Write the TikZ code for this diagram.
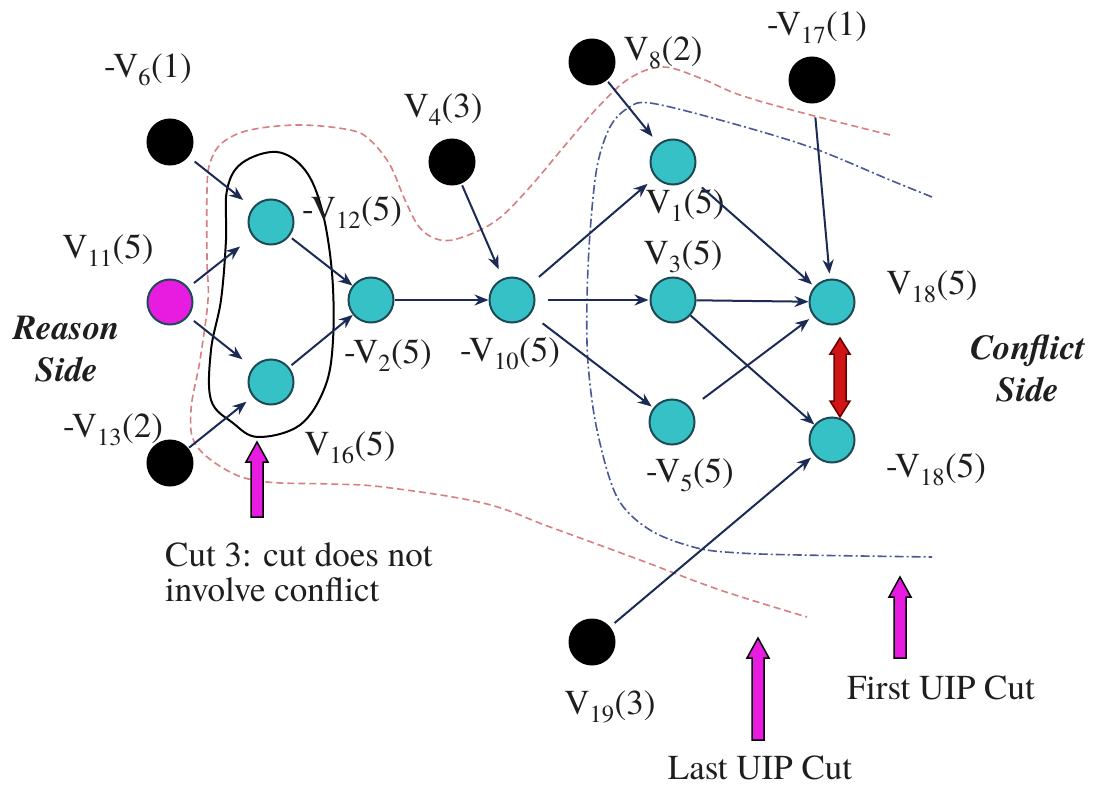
\documentclass[tikz,border=0pt]{standalone}
\usepackage{fontspec}
\setmainfont{texgyretermes}[Extension=.otf, UprightFont=*-regular, BoldFont=*-bold, ItalicFont=*-italic, BoldItalicFont=*-bolditalic]
\usetikzlibrary{arrows.meta}
\definecolor{cyanfill}{HTML}{36C1C6}
\definecolor{cyanedge}{HTML}{1E4A55}
\definecolor{edgecol}{HTML}{1C2B55}
\definecolor{magfill}{HTML}{E81CE0}
\definecolor{cutred}{HTML}{D88080}
\definecolor{cutblue}{HTML}{4A5896}
\definecolor{conred}{HTML}{D01515}
\definecolor{txtcol}{HTML}{1E1E1E}
\tikzset{
  vnode/.style={circle, minimum size=45pt, inner sep=0pt, line width=2pt},
  cyannode/.style={vnode, fill=cyanfill, draw=cyanedge},
  blacknode/.style={vnode, fill=black, draw=black},
  magnode/.style={vnode, fill=magfill, draw=cyanedge},
  lbl/.style={text=txtcol, inner sep=0pt},
  sidelbl/.style={lbl, font=\fontsize{35}{42}\selectfont\bfseries\itshape, align=center},
  imp/.style={draw=edgecol, line width=2pt, -{Stealth[length=14pt,width=11pt]}},
  redcut/.style={draw=cutred, line width=1.6pt, dash pattern=on 7pt off 4pt},
  bluecut/.style={draw=cutblue, line width=1.6pt, dash pattern=on 9pt off 3pt on 2pt off 3pt},
  pics/uparrow/.style={code={\draw[draw=black, fill=magfill, line width=1.5pt, line join=miter]
     (-6,0) -- (-6,-#1+20) -- (-11,-#1+20) -- (0,-#1) -- (11,-#1+20) -- (6,-#1+20) -- (6,0) -- cycle;}}
}
\begin{document}
\begin{tikzpicture}[x=1pt,y=-1pt, font=\fontsize{35}{38}\selectfont]
\useasboundingbox[fill=white] (0,0) rectangle (1101,787);

% cut curves
\draw[redcut] plot[smooth, tension=0.6] coordinates {
 (890,135) (803,113) (740,95) (700,78) (663,67) (630,78) (600,105) (567,143)
 (530,187) (497,220) (463,237) (440,240) (420,228) (405,200) (390,165) (370,140)
 (350,130) (300,125) (250,130) (222,143) (210,163) (207,190) (207,260) (208,300)
 (200,360) (191,410) (196,445) (230,472) (267,482) (330,484) (383,487) (483,503)
 (550,527) (640,560) (720,590) (807,617)};
\draw[bluecut] plot[smooth, tension=0.55] coordinates {
 (932,197) (890,180) (810,147) (720,120) (650,103) (628,108) (610,127) (597,167)
 (590,233) (587,300) (588,363) (597,430) (617,497) (650,530) (697,548) (740,553)
 (800,555) (932,557)};
% black loop (cut 3)
\draw[black, line width=2pt] plot[smooth cycle, tension=0.6] coordinates {
 (258,437) (233,423) (211,400) (211,350) (221,300) (226,240) (227,190) (242,163)
 (277,152) (305,170) (322,210) (332,273) (333,340) (325,387) (300,425)};

% nodes
\node[blacknode] (V6)  at (170,142) {};
\node[cyannode]  (V12) at (271,222) {};
\node[magnode]   (V11) at (170,302) {};
\node[cyannode]  (V2)  at (371,300) {};
\node[cyannode]  (V16) at (271,382) {};
\node[blacknode] (V13) at (170,463) {};
\node[blacknode] (V4)  at (452,162) {};
\node[cyannode]  (V10) at (512,300) {};
\node[blacknode] (V8)  at (592,62) {};
\node[cyannode]  (V1)  at (673,162) {};
\node[cyannode]  (V3)  at (673,300) {};
\node[cyannode]  (V5)  at (672,422) {};
\node[blacknode] (V17) at (812,80) {};
\node[cyannode]  (V18) at (832,302) {};
\node[cyannode]  (nV18) at (832,440) {};
\node[blacknode] (V19) at (592,642) {};

% labels
\node[lbl] (lV6)  at (148,70)  {-V\textsubscript{6}(1)};
\node[lbl] (lV12) at (352,212) {-V\textsubscript{12}(5)};
\node[lbl] (lV11) at (108,250) {V\textsubscript{11}(5)};
\node[lbl] (lV2)  at (388,355) {-V\textsubscript{2}(5)};
\node[lbl] (lV16) at (350,448) {V\textsubscript{16}(5)};
\node[lbl] (lV13) at (113,430) {-V\textsubscript{13}(2)};
\node[lbl] (lV4)  at (443,110) {V\textsubscript{4}(3)};
\node[lbl] (lV10) at (510,354) {-V\textsubscript{10}(5)};
\node[lbl] (lV8)  at (663,53)  {V\textsubscript{8}(2)};
\node[lbl] (lV1)  at (685,205) {V\textsubscript{1}(5)};
\node[lbl] (lV3)  at (683,257) {V\textsubscript{3}(5)};
\node[lbl] (lV5)  at (690,475) {-V\textsubscript{5}(5)};
\node[lbl] (lV17) at (817,28)  {-V\textsubscript{17}(1)};
\node[lbl] (lV18) at (932,287) {V\textsubscript{18}(5)};
\node[lbl] (lnV18) at (936,470) {-V\textsubscript{18}(5)};
\node[lbl] (lV19) at (610,707) {V\textsubscript{19}(3)};
\node[sidelbl] (reason) at (67,349) {Reason\\Side};
\node[sidelbl] (conflict) at (1028,368) {Conflict\\Side};
\node[lbl, anchor=west, align=left, font=\fontsize{35}{35}\selectfont] (cut3txt) at (165,572) {Cut 3: cut does not\\involve conflict};
\node[lbl] (lastTxt)  at (760,768) {Last UIP Cut};
\node[lbl] (firstTxt) at (941,688) {First UIP Cut};

% implication edges
\draw[imp, shorten <=8pt, shorten >=12pt] (V6) -- (V12);
\draw[imp, shorten <=7pt, shorten >=16pt] (V11) -- (V12);
\draw[imp, shorten <=7pt, shorten >=13pt] (V11) -- (V16);
\draw[imp, shorten <=1pt, shorten >=8pt] (V13) -- (V16);
\draw[imp, shorten <=3pt] (V12) -- (V2);
\draw[imp, shorten <=3pt] (V16) -- (V2);
\draw[imp] (V2) -- (V10);
\draw[imp, shorten <=2pt, shorten >=10pt] (V4) -- (V10);
\draw[imp, shorten <=12pt, shorten >=10pt] (V10) -- (V1);
\draw[imp, shorten <=12pt, shorten >=1pt] (V10) -- (V3);
\draw[imp, shorten <=15pt, shorten >=2pt] (V10) -- (V5);
\draw[imp, shorten <=2pt, shorten >=9pt] (V8) -- (V1);
\draw[imp, shorten <=15pt, shorten >=3pt] (V1) -- (V18);
\draw[imp] (V3) -- (V18);
\draw[imp] (V3) -- (nV18);
\draw[imp, shorten <=15pt, shorten >=5pt] (V5) -- (V18);
\draw[imp, shorten <=14pt, shorten >=5pt] (V17) -- (V18);
\draw[imp, shorten <=6pt, shorten >=4pt] (V19) -- (nV18);

% conflict double arrow
\draw[fill=conred, draw=black!60!red, line width=1.5pt, line join=miter]
  (840,338) -- (850,354) -- (846,354) -- (846,401) -- (850,401) -- (840,417)
  -- (830,401) -- (834,401) -- (834,354) -- (830,354) -- cycle;

% cut pointers
\pic at (257,517) {uparrow=75};
\pic at (758,740) {uparrow=102};
\pic at (900,658) {uparrow=81};
\end{tikzpicture}
\end{document}
